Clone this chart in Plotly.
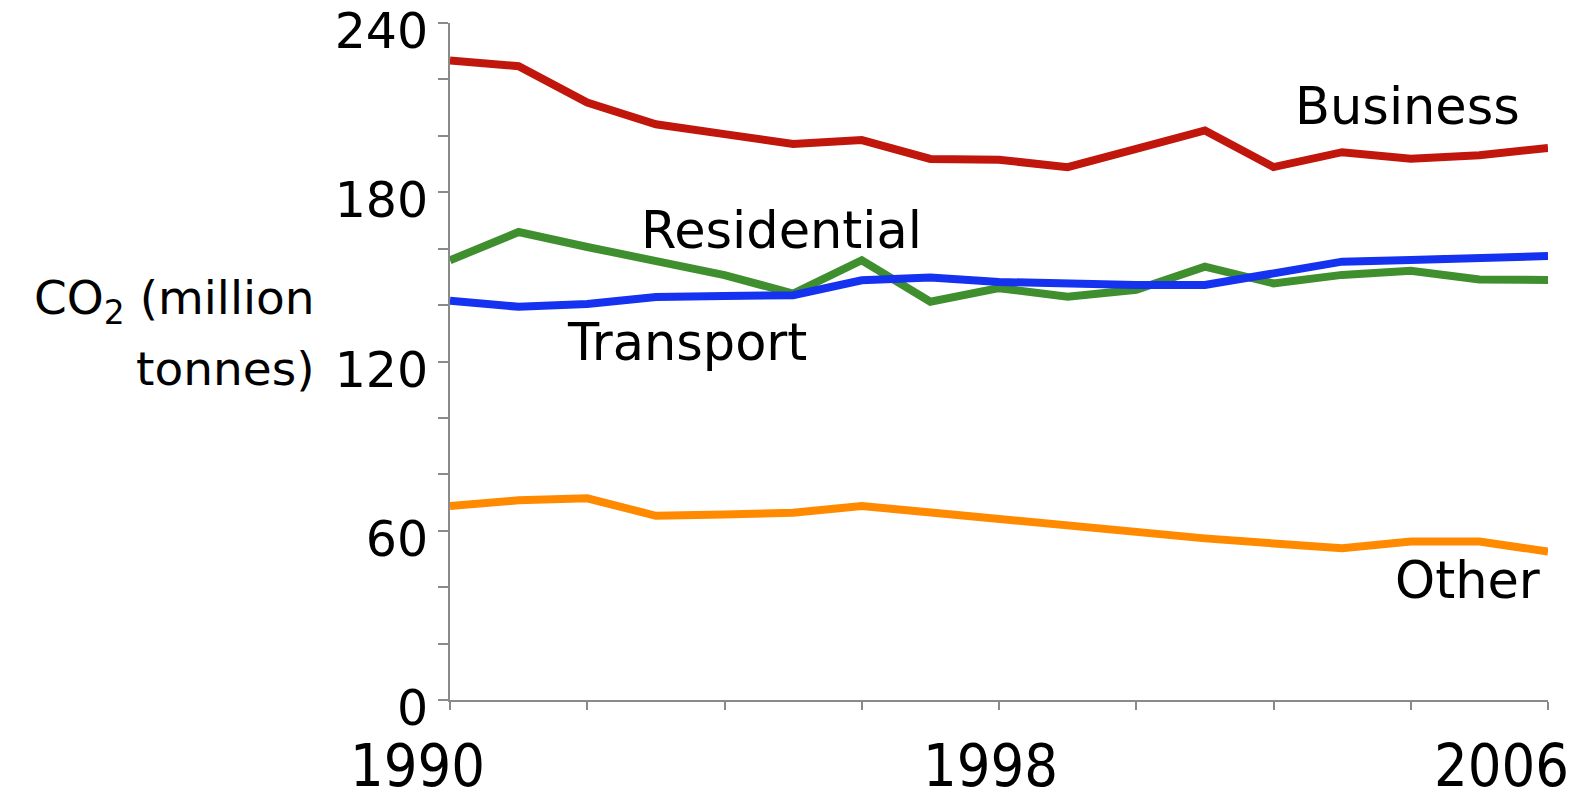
import plotly.graph_objects as go

years = list(range(1990, 2007))

business = [226.7, 224.7, 211.8, 204.1, 200.6, 197.1, 198.5, 191.8, 191.5,
            188.9, 195.4, 201.9, 188.9, 194.2, 191.9, 193.1, 195.7]
residential = [155.9, 165.9, 160.6, 155.9, 150.6, 144.1, 155.9, 141.2, 146.0,
               143.0, 145.4, 153.6, 147.7, 150.7, 152.2, 149.1, 148.9]
transport = [141.5, 139.4, 140.4, 142.9, 143.2, 143.5, 148.8, 149.8, 148.2,
             147.5, 147.1, 147.1, 151.2, 155.4, 156.0, 156.8, 157.4]
other = [68.8, 70.8, 71.5, 65.3, 65.8, 66.4, 68.8, 66.4, 64.0,
         61.7, 59.4, 57.3, 55.5, 53.8, 56.2, 56.2, 52.6]

y_ticks = [0, 60, 120, 180, 240]
x_labels = ["1990", "1998", "2006"]

series = [
    ("Business", business, "#c0160c"),
    ("Residential", residential, "#3f8f2f"),
    ("Transport", transport, "#1432f0"),
    ("Other", other, "#ff8a00"),
]

LABEL_FONT = "DejaVu Sans, Verdana, sans-serif"
YEAR_FONT = "DejaVu Sans Condensed, sans-serif"
AXIS_GRAY = "#8a8a8a"

fig = go.Figure()
for name, values, color in series:
    fig.add_trace(go.Scatter(
        x=years, y=values, mode="lines", name=name,
        line=dict(color=color, width=8),
    ))

# series labels placed next to their lines
label_pos = {
    "Business": (2003.95, 210.5),
    "Residential": (1994.83, 166.5),
    "Transport": (1993.45, 126.9),
    "Other": (2004.83, 42.2),
}
for name, (lx, ly) in label_pos.items():
    fig.add_annotation(x=lx, y=ly, text=name, showarrow=False,
                       font=dict(family=LABEL_FONT, size=51, color="black"))

# year labels under the axis (slightly offset like the original)
shifts = [-33, -9, -47]
for lab, sh in zip(x_labels, shifts):
    fig.add_annotation(x=int(lab), y=0, xref="x", yref="paper", yanchor="middle",
                       text=lab, showarrow=False, xshift=sh, yshift=-65,
                       font=dict(family=YEAR_FONT, size=59, color="black"))

# y axis title, two right-aligned lines
for txt, ty in [("CO<sub>2</sub> (million", 0.589), ("tonnes)", 0.489)]:
    fig.add_annotation(x=0, y=ty, xref="paper", yref="paper",
                       xanchor="right", xshift=-133, text=txt, showarrow=False,
                       font=dict(family=LABEL_FONT, size=47, color="black"))

fig.update_layout(
    width=1585, height=793,
    margin=dict(l=442, r=45, t=15, b=101, autoexpand=False),
    paper_bgcolor="white", plot_bgcolor="white",
    showlegend=False,
    xaxis=dict(
        range=[1990, 2006], showgrid=False, zeroline=False, automargin=False,
        showline=True, linecolor=AXIS_GRAY, linewidth=2,
        tickvals=[1990, 1998, 2006], showticklabels=False,
        ticks="outside", ticklen=8, tickcolor=AXIS_GRAY, tickwidth=2,
        minor=dict(dtick=2, tick0=1990, ticks="outside", ticklen=8,
                   tickcolor=AXIS_GRAY, tickwidth=2),
    ),
    yaxis=dict(
        range=[0, 240], showgrid=False, zeroline=False, automargin=False,
        showline=True, linecolor=AXIS_GRAY, linewidth=2,
        tickvals=y_ticks, ticks="outside", ticklen=10,
        tickcolor=AXIS_GRAY, tickwidth=2, ticklabelshift=8,
        ticklabeloverflow="allow",
        tickfont=dict(family=LABEL_FONT, size=49, color="black"),
        minor=dict(dtick=20, ticks="outside", ticklen=10,
                   tickcolor=AXIS_GRAY, tickwidth=2),
    ),
)

fig.write_html("out.html")
